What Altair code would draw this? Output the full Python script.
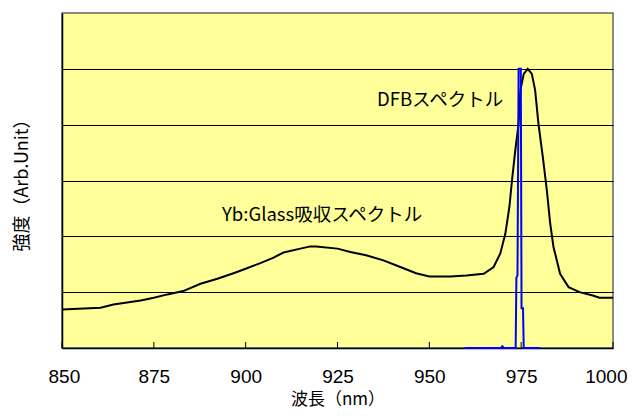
import altair as alt
import pandas as pd

# Yb:Glass absorption spectrum (wavelength nm, relative intensity)
abs_nm = [850, 860.5, 864, 871.4, 875, 878.7, 883, 887.7, 892.3, 896.7, 900,
          904, 907.6, 910.3, 914.9, 917.6, 919.2, 925, 928.5, 932.8, 937.5,
          942.1, 946.4, 950, 955.7, 960.1, 964.8, 967.5, 969.3, 970.7, 971.8,
          972.5, 973.4, 974.3, 974.8, 975.7, 976.8, 977.9, 978.8, 979.7, 980.9,
          982.0, 982.9, 983.8, 985.6, 987.9, 990.9, 994.5, 996.3, 1000]
abs_val = [0.69, 0.72, 0.78, 0.85, 0.90, 0.96, 1.02, 1.15, 1.24, 1.34, 1.42,
           1.52, 1.62, 1.71, 1.78, 1.82, 1.82, 1.78, 1.72, 1.66, 1.57,
           1.45, 1.34, 1.28, 1.28, 1.30, 1.33, 1.45, 1.69, 2.05, 2.53,
           3.00, 3.54, 4.02, 4.62, 4.91, 5.00, 4.91, 4.62, 4.02, 3.42,
           2.82, 2.23, 1.81, 1.33, 1.09, 1.00, 0.94, 0.90, 0.90]

# DFB laser spectrum
dfb_nm = [959.6, 969.5, 969.9, 970.3, 973.5, 973.7, 974.0, 974.3, 974.9,
          975.1, 975.5, 975.7, 980.2]
dfb_val = [0, 0, 0.03, 0, 0, 1.26, 1.30, 5.0, 5.0, 0.71, 0.71, 0, 0]

x_ticks = [850, 875, 900, 925, 950, 975, 1000]
y_grid = [1, 2, 3, 4, 5]
labels = ["DFBスペクトル", "Yb:Glass吸収スペクトル"]

W, H = 551, 335
JP = "Noto Sans CJK JP"

xs = alt.Scale(domain=[850, 1000], nice=False, zero=False)
ys = alt.Scale(domain=[0, 6], nice=False, zero=True)

abs_df = pd.DataFrame({"nm": abs_nm, "v": abs_val})
dfb_df = pd.DataFrame({"nm": dfb_nm, "v": dfb_val})
tick_df = pd.DataFrame({"nm": x_ticks})

x_axis = alt.Axis(values=x_ticks, format="d", grid=False, ticks=False, tickSize=0,
                  labelPadding=28, labelBaseline="middle",
                  labelFont="Liberation Sans", labelFontSize=19,
                  labelColor="#000", domainColor="#000", domainWidth=1.5,
                  labelFlush=True, labelFlushOffset=14,
                  title="波長（nm）", titleFont=JP, titleFontSize=17,
                  titleFontWeight="normal", titleColor="#000",
                  titleBaseline="middle", titleY=51.5)
y_axis = alt.Axis(values=y_grid, grid=True, gridColor="#000", gridWidth=1,
                  labels=False, ticks=False, tickSize=0,
                  domainColor="#000", domainWidth=1.5,
                  title="強度（Arb.Unit）", titleFont=JP, titleFontSize=18,
                  titleFontWeight="normal", titleColor="#000",
                  titleAngle=-90, titleBaseline="middle", titleAlign="center",
                  titleX=-40, titleY=H / 2)

base_abs = alt.Chart(abs_df).mark_line(color="#000000", strokeWidth=2).encode(
    x=alt.X("nm:Q", scale=xs, axis=x_axis),
    y=alt.Y("v:Q", scale=ys, axis=y_axis),
)
dfb = alt.Chart(dfb_df).mark_line(color="#0000FF", strokeWidth=2).encode(
    x=alt.X("nm:Q", scale=xs),
    y=alt.Y("v:Q", scale=ys),
)
ticks = alt.Chart(tick_df).mark_rule(color="#000", strokeWidth=1).encode(
    x=alt.X("nm:Q", scale=xs),
    y=alt.value(H - 6),
    y2=alt.value(H),
)
t1 = alt.Chart(pd.DataFrame({"t": [labels[0]]})).mark_text(
    align="left", baseline="middle", font=JP, fontSize=18.5, color="#000"
).encode(x=alt.value(315), y=alt.value(87), text="t:N")
t2 = alt.Chart(pd.DataFrame({"t": [labels[1]]})).mark_text(
    align="left", baseline="middle", font=JP, fontSize=18.5, color="#000"
).encode(x=alt.value(160), y=alt.value(202), text="t:N")

chart = alt.layer(base_abs, ticks, dfb, t1, t2).properties(
    width=W, height=H,
    autosize=alt.AutoSizeParams(type="none"),
    padding={"left": 54, "top": 5, "right": 15, "bottom": 62},
    background="#FFFFFF",
).configure_view(fill="#FFFF99", stroke="#666666", strokeWidth=1.5)

chart.save("out.html", embed_options={"renderer": "svg", "actions": False})
